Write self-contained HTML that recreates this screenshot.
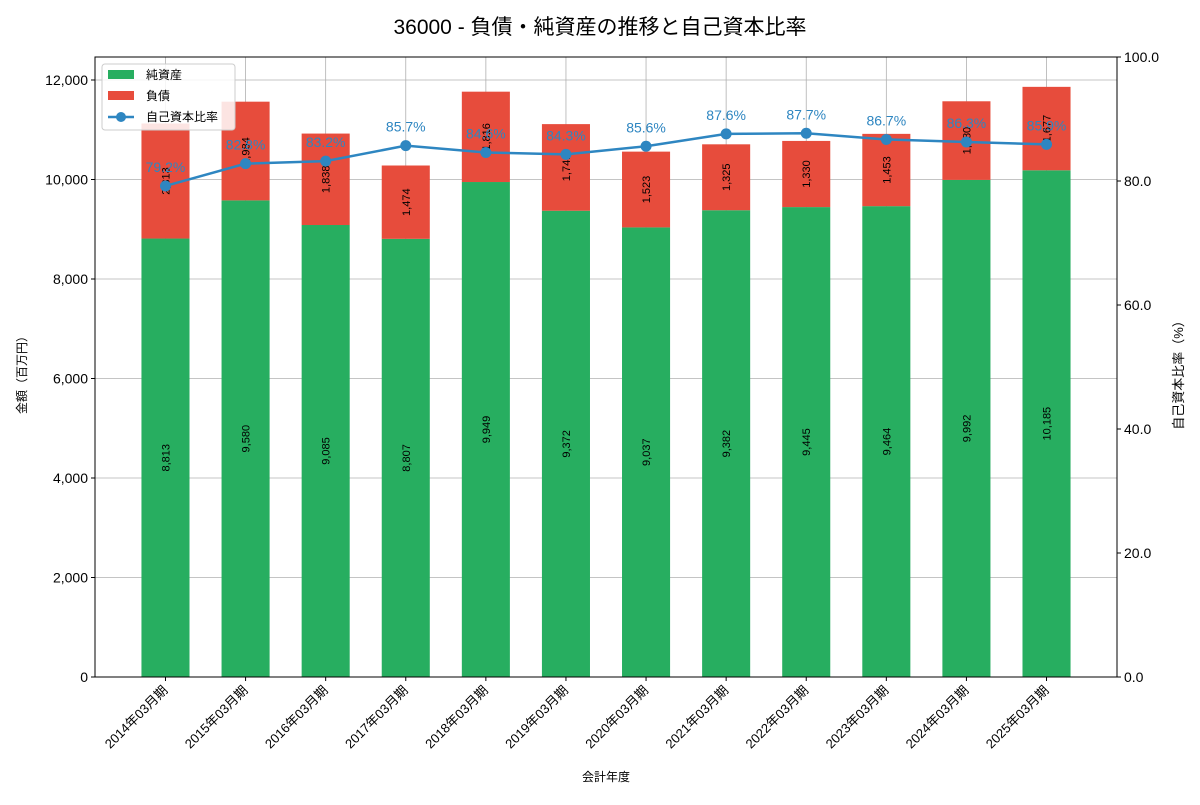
<!DOCTYPE html>
<html><head><meta charset="utf-8"><style>
body{margin:0;background:#fff;font-family:"Liberation Sans","Noto Sans CJK JP",sans-serif}
</style></head><body>
<svg id="chart" width="1200" height="800" xmlns="http://www.w3.org/2000/svg" font-family="Liberation Sans, Noto Sans CJK JP, sans-serif">
<text x="600" y="34" text-anchor="middle" font-size="21">36000 - 負債・純資産の推移と自己資本比率</text>
<g id="grid"></g><g id="bars"></g><g id="line"></g><g id="axes"></g>
<g>
<rect x="102" y="64" width="133" height="66" fill="#fff" fill-opacity="0.85" stroke="#ccc" rx="3"/>
<rect x="108" y="70" width="26" height="9" fill="#27ae60"/>
<text x="146" y="79" font-size="12">純資産</text>
<rect x="108" y="91" width="26" height="9" fill="#e74c3c"/>
<text x="146" y="100" font-size="12">負債</text>
<line x1="108" y1="117" x2="134" y2="117" stroke="#2e86c1" stroke-width="2.5"/>
<circle cx="121" cy="117" r="5" fill="#2e86c1"/>
<text x="146" y="121" font-size="12">自己資本比率</text>
</g>
</svg>
<script>
const categories=["2014年03月期","2015年03月期","2016年03月期","2017年03月期","2018年03月期","2019年03月期","2020年03月期","2021年03月期","2022年03月期","2023年03月期","2024年03月期","2025年03月期"];
const netAssets=[8813,9580,9085,8807,9949,9372,9037,9382,9445,9464,9992,10185];
const liabilities=[2313,1984,1838,1474,1816,1741,1523,1325,1330,1453,1580,1677];
const ratio=[79.2,82.8,83.2,85.7,84.6,84.3,85.6,87.6,87.7,86.7,86.3,85.9];
const leftTicks=[0,2000,4000,6000,8000,10000,12000];
const rightTicks=[0,20,40,60,80,100];
const NS="http://www.w3.org/2000/svg";
const L=95,R=1117,T=57,B=677;
const xmin=-0.88,xmax=11.88,ymaxL=12462,ymaxR=100;
const xs=i=>L+(i-xmin)/(xmax-xmin)*(R-L);
const yL=v=>B-v/ymaxL*(B-T);
const yR=v=>B-v/ymaxR*(B-T);
function mk(tag,attrs,parent,txt){const e=document.createElementNS(NS,tag);for(const k in attrs)e.setAttribute(k,attrs[k]);if(txt!==undefined)e.textContent=txt;document.getElementById(parent).appendChild(e);return e;}
const fmt=v=>v.toLocaleString('en-US');
// grid
leftTicks.forEach(t=>{mk('line',{x1:L,x2:R,y1:yL(t),y2:yL(t),stroke:'#b0b0b0','stroke-width':0.8},'grid');});
categories.forEach((c,i)=>{mk('line',{x1:xs(i),x2:xs(i),y1:T,y2:B,stroke:'#b0b0b0','stroke-width':0.8},'grid');});
const bw=0.6*(R-L)/(xmax-xmin);
categories.forEach((c,i)=>{
 const x=xs(i)-bw/2;
 let e=mk('rect',{x:x,y:yL(netAssets[i]),width:bw,height:B-yL(netAssets[i]),fill:'#27ae60'},'bars');
 
 
 e=mk('rect',{x:x,y:yL(netAssets[i]+liabilities[i]),width:bw,height:yL(netAssets[i])-yL(netAssets[i]+liabilities[i]),fill:'#e74c3c'},'bars');
 
 
 let cy=yL(netAssets[i]/2);
 e=mk('text',{x:xs(i)+4,y:cy,'font-size':11,'text-anchor':'middle',transform:`rotate(-90 ${xs(i)+4} ${cy})`},'bars',fmt(netAssets[i]));
 
 
 cy=yL(netAssets[i]+liabilities[i]/2);
 e=mk('text',{x:xs(i)+4,y:cy,'font-size':11,'text-anchor':'middle',transform:`rotate(-90 ${xs(i)+4} ${cy})`},'bars',fmt(liabilities[i]));
 
 
});
const pts=ratio.map((r,i)=>xs(i)+','+yR(r)).join(' ');
let pl=mk('polyline',{points:pts,fill:'none',stroke:'#2e86c1','stroke-width':2.5},'line');


ratio.forEach((r,i)=>{
 let c=mk('circle',{cx:xs(i),cy:yR(r),r:5.5,fill:'#2e86c1'},'line');
 
 
 let t=mk('text',{x:xs(i),y:yR(r)-14,'font-size':14,fill:'#2e86c1','text-anchor':'middle'},'line',r.toFixed(1)+'%');
 
 
});
// axes
mk('rect',{x:L,y:T,width:R-L,height:B-T,fill:'none',stroke:'#000','stroke-width':1},'axes');
leftTicks.forEach(t=>{
 mk('line',{x1:L-4,x2:L,y1:yL(t),y2:yL(t),stroke:'#000'},'axes');
 let e=mk('text',{x:L-7,y:yL(t)+5,'font-size':14,'text-anchor':'end'},'axes',fmt(t));
 
 
});
rightTicks.forEach(t=>{
 mk('line',{x1:R,x2:R+4,y1:yR(t),y2:yR(t),stroke:'#000'},'axes');
 let e=mk('text',{x:R+7,y:yR(t)+5,'font-size':14},'axes',t.toFixed(1));
 
 
});
categories.forEach((c,i)=>{
 mk('line',{x1:xs(i),x2:xs(i),y1:B,y2:B+4,stroke:'#000'},'axes');
 let e=mk('text',{x:xs(i)+3,y:B+14,'font-size':13,'text-anchor':'end',transform:`rotate(-45 ${xs(i)+3} ${B+14})`},'axes',c);
 
 
});
let e=mk('text',{x:606,y:781,'font-size':12,'text-anchor':'middle'},'axes','会計年度');

e=mk('text',{x:26,y:372,'font-size':12,'text-anchor':'middle',transform:'rotate(-90 26 372)'},'axes','金額（百万円）');

e=mk('text',{x:1183,y:372,'font-size':13,'text-anchor':'middle',transform:'rotate(-90 1183 372)'},'axes','自己資本比率（%）');

</script>
</body></html>
